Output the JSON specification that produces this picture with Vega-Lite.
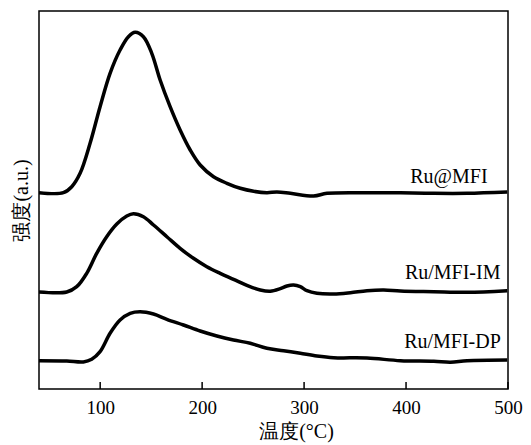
{
  "$schema": "https://vega.github.io/schema/vega-lite/v6.json",
  "width": 469,
  "height": 378,
  "autosize": "none",
  "padding": {"left": 39, "top": 11, "right": 23, "bottom": 56},
  "background": "white",
  "config": {
    "view": {"stroke": "black", "strokeWidth": 1.5},
    "font": "Liberation Serif"
  },
  "datasets": {
    "curves": [
      {"T": 40, "v": 196.3, "s": "Ru@MFI"},
      {"T": 63.9, "v": 196.3, "s": "Ru@MFI"},
      {"T": 72.1, "v": 202.3, "s": "Ru@MFI"},
      {"T": 80.3, "v": 215.7, "s": "Ru@MFI"},
      {"T": 90.1, "v": 245.7, "s": "Ru@MFI"},
      {"T": 99.9, "v": 282.3, "s": "Ru@MFI"},
      {"T": 109.7, "v": 315.7, "s": "Ru@MFI"},
      {"T": 119.5, "v": 339, "s": "Ru@MFI"},
      {"T": 127.7, "v": 352.3, "s": "Ru@MFI"},
      {"T": 134.3, "v": 356.7, "s": "Ru@MFI"},
      {"T": 142.4, "v": 352.3, "s": "Ru@MFI"},
      {"T": 150.6, "v": 335.7, "s": "Ru@MFI"},
      {"T": 158.8, "v": 309, "s": "Ru@MFI"},
      {"T": 168.6, "v": 282.3, "s": "Ru@MFI"},
      {"T": 178.4, "v": 259, "s": "Ru@MFI"},
      {"T": 188.3, "v": 239, "s": "Ru@MFI"},
      {"T": 198.1, "v": 224, "s": "Ru@MFI"},
      {"T": 211.2, "v": 212.3, "s": "Ru@MFI"},
      {"T": 224.3, "v": 205.7, "s": "Ru@MFI"},
      {"T": 237.4, "v": 200.7, "s": "Ru@MFI"},
      {"T": 250.5, "v": 197.7, "s": "Ru@MFI"},
      {"T": 263.5, "v": 196.3, "s": "Ru@MFI"},
      {"T": 273.4, "v": 197, "s": "Ru@MFI"},
      {"T": 286.5, "v": 195.7, "s": "Ru@MFI"},
      {"T": 309.4, "v": 193, "s": "Ru@MFI"},
      {"T": 322.5, "v": 195.7, "s": "Ru@MFI"},
      {"T": 361.7, "v": 196.3, "s": "Ru@MFI"},
      {"T": 394.5, "v": 196.3, "s": "Ru@MFI"},
      {"T": 427.2, "v": 195.7, "s": "Ru@MFI"},
      {"T": 459.9, "v": 195.7, "s": "Ru@MFI"},
      {"T": 499.2, "v": 197, "s": "Ru@MFI"},

      {"T": 40, "v": 97, "s": "Ru/MFI-IM"},
      {"T": 67.2, "v": 97, "s": "Ru/MFI-IM"},
      {"T": 77, "v": 102.3, "s": "Ru/MFI-IM"},
      {"T": 86.8, "v": 115.7, "s": "Ru/MFI-IM"},
      {"T": 96.6, "v": 135.7, "s": "Ru/MFI-IM"},
      {"T": 106.4, "v": 152.3, "s": "Ru/MFI-IM"},
      {"T": 116.3, "v": 165, "s": "Ru/MFI-IM"},
      {"T": 126.1, "v": 173, "s": "Ru/MFI-IM"},
      {"T": 132.6, "v": 175.3, "s": "Ru/MFI-IM"},
      {"T": 142.4, "v": 172.3, "s": "Ru/MFI-IM"},
      {"T": 152.3, "v": 164, "s": "Ru/MFI-IM"},
      {"T": 165.4, "v": 152.3, "s": "Ru/MFI-IM"},
      {"T": 178.4, "v": 140.7, "s": "Ru/MFI-IM"},
      {"T": 191.5, "v": 130.7, "s": "Ru/MFI-IM"},
      {"T": 204.6, "v": 122.3, "s": "Ru/MFI-IM"},
      {"T": 217.7, "v": 115.7, "s": "Ru/MFI-IM"},
      {"T": 230.8, "v": 109.7, "s": "Ru/MFI-IM"},
      {"T": 243.9, "v": 103.7, "s": "Ru/MFI-IM"},
      {"T": 257, "v": 99, "s": "Ru/MFI-IM"},
      {"T": 266.8, "v": 97.7, "s": "Ru/MFI-IM"},
      {"T": 276.6, "v": 100.3, "s": "Ru/MFI-IM"},
      {"T": 283.2, "v": 103, "s": "Ru/MFI-IM"},
      {"T": 289.7, "v": 104, "s": "Ru/MFI-IM"},
      {"T": 296.3, "v": 102.3, "s": "Ru/MFI-IM"},
      {"T": 302.8, "v": 98.3, "s": "Ru/MFI-IM"},
      {"T": 312.6, "v": 95.7, "s": "Ru/MFI-IM"},
      {"T": 329, "v": 95, "s": "Ru/MFI-IM"},
      {"T": 345.4, "v": 96.3, "s": "Ru/MFI-IM"},
      {"T": 361.7, "v": 98.3, "s": "Ru/MFI-IM"},
      {"T": 378.1, "v": 99, "s": "Ru/MFI-IM"},
      {"T": 394.5, "v": 98, "s": "Ru/MFI-IM"},
      {"T": 427.2, "v": 97.3, "s": "Ru/MFI-IM"},
      {"T": 459.9, "v": 96.7, "s": "Ru/MFI-IM"},
      {"T": 499.2, "v": 98.3, "s": "Ru/MFI-IM"},

      {"T": 40, "v": 28.3, "s": "Ru/MFI-DP"},
      {"T": 67.2, "v": 28, "s": "Ru/MFI-DP"},
      {"T": 83.5, "v": 27, "s": "Ru/MFI-DP"},
      {"T": 91.7, "v": 29.7, "s": "Ru/MFI-DP"},
      {"T": 99.9, "v": 37.3, "s": "Ru/MFI-DP"},
      {"T": 109.7, "v": 55.7, "s": "Ru/MFI-DP"},
      {"T": 119.5, "v": 69, "s": "Ru/MFI-DP"},
      {"T": 129.4, "v": 75.7, "s": "Ru/MFI-DP"},
      {"T": 139.2, "v": 77.3, "s": "Ru/MFI-DP"},
      {"T": 152.3, "v": 75, "s": "Ru/MFI-DP"},
      {"T": 165.4, "v": 69.7, "s": "Ru/MFI-DP"},
      {"T": 181.7, "v": 64, "s": "Ru/MFI-DP"},
      {"T": 198.1, "v": 58, "s": "Ru/MFI-DP"},
      {"T": 214.5, "v": 53, "s": "Ru/MFI-DP"},
      {"T": 230.8, "v": 49, "s": "Ru/MFI-DP"},
      {"T": 247.2, "v": 45.7, "s": "Ru/MFI-DP"},
      {"T": 263.5, "v": 40.7, "s": "Ru/MFI-DP"},
      {"T": 279.9, "v": 38.3, "s": "Ru/MFI-DP"},
      {"T": 296.3, "v": 35.7, "s": "Ru/MFI-DP"},
      {"T": 312.6, "v": 33, "s": "Ru/MFI-DP"},
      {"T": 329, "v": 31.3, "s": "Ru/MFI-DP"},
      {"T": 361.7, "v": 31, "s": "Ru/MFI-DP"},
      {"T": 394.5, "v": 28.3, "s": "Ru/MFI-DP"},
      {"T": 427.2, "v": 27.7, "s": "Ru/MFI-DP"},
      {"T": 443.6, "v": 26.7, "s": "Ru/MFI-DP"},
      {"T": 459.9, "v": 28.3, "s": "Ru/MFI-DP"},
      {"T": 499.2, "v": 29, "s": "Ru/MFI-DP"}
    ],
    "labels": [
      {"T": 480, "v": 212, "name": "Ru@MFI"},
      {"T": 492.6, "v": 116.3, "name": "Ru/MFI-IM"},
      {"T": 493, "v": 47.3, "name": "Ru/MFI-DP"}
    ],
    "ticks": [
      {"T": 100}, {"T": 200}, {"T": 300}, {"T": 400}, {"T": 500}
    ]
  },
  "layer": [
    {
      "data": {"name": "curves"},
      "mark": {"type": "line", "interpolate": "catmull-rom", "color": "black", "strokeWidth": 3.5, "clip": true},
      "encoding": {
        "x": {
          "field": "T", "type": "quantitative",
          "scale": {"domain": [40, 500], "nice": false, "zero": false},
          "axis": {
            "title": "温度(°C)", "values": [100, 200, 300, 400, 500],
            "grid": false, "domain": false, "ticks": false,
            "labelFont": "Liberation Serif", "labelFontSize": 19, "labelColor": "black", "labelPadding": 9,
            "labelFlush": false,
            "titleFont": "Liberation Serif", "titleFontSize": 20, "titleFontWeight": "normal",
            "titleColor": "black", "titlePadding": 4, "titleX": 257, "titleAlign": "center"
          }
        },
        "y": {
          "field": "v", "type": "quantitative",
          "scale": {"domain": [0, 378], "nice": false},
          "axis": {
            "title": "强度(a.u.)", "labels": false, "ticks": false, "domain": false, "grid": false,
            "titleFont": "Liberation Serif", "titleFontSize": 20, "titleFontWeight": "normal",
            "titleColor": "black", "titlePadding": 8
          }
        },
        "detail": {"field": "s", "type": "nominal"}
      }
    },
    {
      "data": {"name": "ticks"},
      "mark": {"type": "rule", "color": "black", "strokeWidth": 1.5},
      "encoding": {
        "x": {"field": "T", "type": "quantitative"},
        "y": {"datum": 0},
        "y2": {"datum": 7}
      }
    },
    {
      "data": {"name": "labels"},
      "mark": {"type": "text", "align": "right", "baseline": "middle", "font": "Liberation Serif", "fontSize": 20, "color": "black"},
      "encoding": {
        "x": {"field": "T", "type": "quantitative"},
        "y": {"field": "v", "type": "quantitative"},
        "text": {"field": "name", "type": "nominal"}
      }
    }
  ]
}
